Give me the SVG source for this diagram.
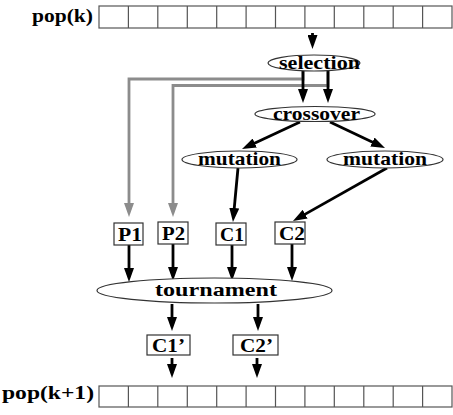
<svg xmlns="http://www.w3.org/2000/svg" width="453" height="415" viewBox="0 0 453 415">
<style>
text{font-family:'Liberation Serif','Times New Roman',Times,serif;font-weight:700;font-size:19px;fill:#000}
.cell{fill:#fff;stroke:#555;stroke-width:1.2}
.node{fill:#fff;stroke:#333;stroke-width:1.2}
.blk{fill:none;stroke:#000;stroke-width:2.8}
.gry{fill:none;stroke:#8c8c8c;stroke-width:2.8}
</style>
<defs>
<marker id="ah" viewBox="0 0 14 10" refX="5" refY="5" markerWidth="14" markerHeight="10" markerUnits="userSpaceOnUse" orient="auto"><path d="M0,0 L14,5 L0,10 z" fill="#000"/></marker>
<marker id="ahg" viewBox="0 0 14 10" refX="5" refY="5" markerWidth="14" markerHeight="10" markerUnits="userSpaceOnUse" orient="auto"><path d="M0,0 L14,5 L0,10 z" fill="#8c8c8c"/></marker>
</defs>
<g id="popk">
<rect class="cell" x="99" y="6" width="353" height="22"/>
<path class="cell" d="M128.4,6V28M157.8,6V28M187.3,6V28M216.7,6V28M246.1,6V28M275.5,6V28M304.9,6V28M334.3,6V28M363.8,6V28M393.2,6V28M422.6,6V28"/>
<text x="32" y="22" textLength="61" lengthAdjust="spacingAndGlyphs">pop(k)</text>
</g>
<g id="popk1">
<rect class="cell" x="99" y="386" width="353" height="21"/>
<path class="cell" d="M128.4,386V407M157.8,386V407M187.3,386V407M216.7,386V407M246.1,386V407M275.5,386V407M304.9,386V407M334.3,386V407M363.8,386V407M393.2,386V407M422.6,386V407"/>
<text x="2" y="399" textLength="92" lengthAdjust="spacingAndGlyphs">pop(k+1)</text>
</g>
<g id="connectors">
<polyline class="gry" points="303,71 303,79 129,79 129,208" marker-end="url(#ahg)"/>
<polyline class="gry" points="328,71 328,85.5 173,85.5 173,208" marker-end="url(#ahg)"/>
<line class="blk" x1="312.5" y1="33" x2="312.5" y2="40" marker-end="url(#ah)"/>
<line class="blk" x1="303" y1="71" x2="303" y2="94" marker-end="url(#ah)"/>
<line class="blk" x1="328" y1="71" x2="328" y2="94" marker-end="url(#ah)"/>
<line class="blk" x1="300" y1="122" x2="250.2" y2="145.2" marker-end="url(#ah)"/>
<line class="blk" x1="330" y1="122" x2="376.9" y2="144.2" marker-end="url(#ah)"/>
<line class="blk" x1="238" y1="168" x2="233.8" y2="213" marker-end="url(#ah)"/>
<line class="blk" x1="387" y1="168" x2="300.8" y2="216.6" marker-end="url(#ah)"/>
<line class="blk" x1="129" y1="245" x2="129" y2="273" marker-end="url(#ah)"/>
<line class="blk" x1="173" y1="244" x2="173" y2="272" marker-end="url(#ah)"/>
<line class="blk" x1="232" y1="245" x2="232" y2="272" marker-end="url(#ah)"/>
<line class="blk" x1="292" y1="244" x2="292" y2="272" marker-end="url(#ah)"/>
<line class="blk" x1="172" y1="304" x2="172" y2="322" marker-end="url(#ah)"/>
<line class="blk" x1="258" y1="304" x2="258" y2="322" marker-end="url(#ah)"/>
<line class="blk" x1="172" y1="358" x2="172" y2="369" marker-end="url(#ah)"/>
<line class="blk" x1="257" y1="358" x2="257" y2="369" marker-end="url(#ah)"/>
</g>
<g id="selection">
<ellipse class="node" cx="314" cy="63" rx="46" ry="8"/>
<text x="279" y="69" textLength="81" lengthAdjust="spacingAndGlyphs">selection</text>
</g>
<g id="crossover">
<ellipse class="node" cx="315" cy="114" rx="60" ry="7.5"/>
<text x="273" y="119.5" textLength="87" lengthAdjust="spacingAndGlyphs">crossover</text>
</g>
<g id="mutation1">
<ellipse class="node" cx="239.5" cy="159.5" rx="57.5" ry="8.5"/>
<text x="198" y="165" textLength="83" lengthAdjust="spacingAndGlyphs">mutation</text>
</g>
<g id="mutation2">
<ellipse class="node" cx="385" cy="159.5" rx="58" ry="8.5"/>
<text x="343" y="165" textLength="84" lengthAdjust="spacingAndGlyphs">mutation</text>
</g>
<g id="P1">
<rect class="node" x="114" y="223" width="29" height="22"/>
<text x="118" y="241" textLength="24" lengthAdjust="spacingAndGlyphs">P1</text>
</g>
<g id="P2">
<rect class="node" x="158" y="222" width="30" height="22"/>
<text x="162" y="240" textLength="23" lengthAdjust="spacingAndGlyphs">P2</text>
</g>
<g id="C1">
<rect class="node" x="216" y="223" width="30" height="22"/>
<text x="220" y="241" textLength="24" lengthAdjust="spacingAndGlyphs">C1</text>
</g>
<g id="C2">
<rect class="node" x="275" y="222" width="30" height="22"/>
<text x="279" y="240" textLength="26" lengthAdjust="spacingAndGlyphs">C2</text>
</g>
<g id="tournament">
<ellipse class="node" cx="214.5" cy="290.5" rx="117.5" ry="12.5"/>
<text x="155" y="296" textLength="122" lengthAdjust="spacingAndGlyphs">tournament</text>
</g>
<g id="C1p">
<rect class="node" x="147" y="335" width="43" height="20"/>
<text x="152" y="351.5" textLength="33" lengthAdjust="spacingAndGlyphs">C1’</text>
</g>
<g id="C2p">
<rect class="node" x="233" y="335" width="45" height="20"/>
<text x="240" y="351.5" textLength="33" lengthAdjust="spacingAndGlyphs">C2’</text>
</g>
</svg>
